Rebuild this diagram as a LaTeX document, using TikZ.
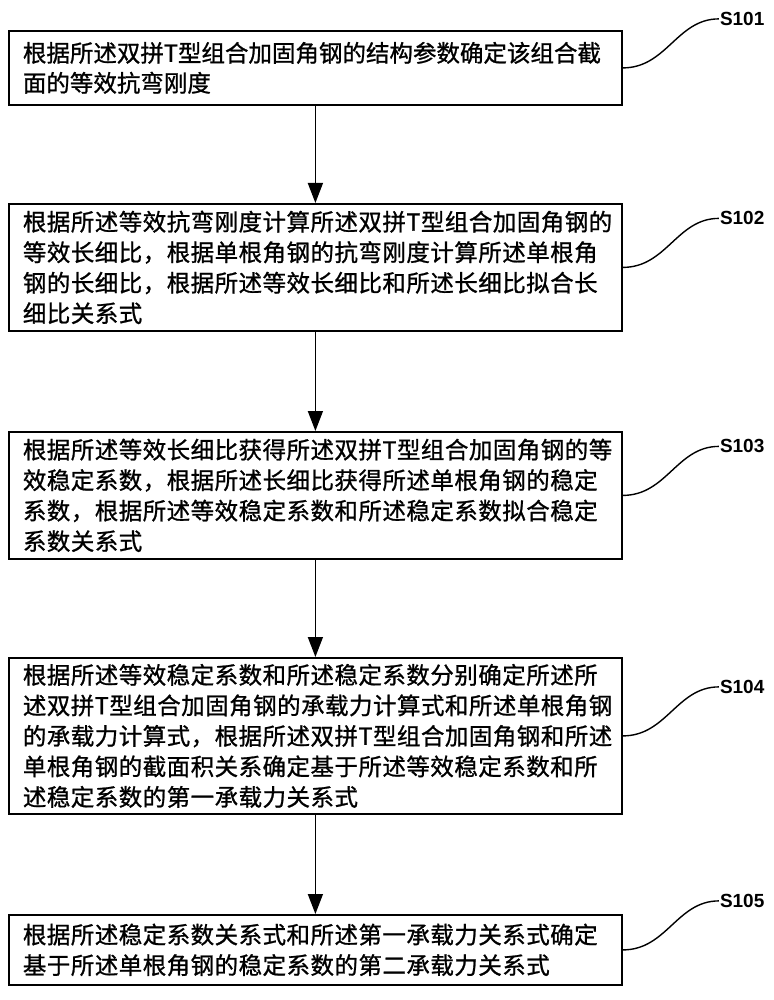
\documentclass[tikz,border=0pt]{standalone}
\usepackage{fontspec}
\usetikzlibrary{arrows.meta,calc}
\newfontfamily\cjka{Noto Sans CJK SC}[FakeBold=1]
\newfontfamily\cjkb{Noto Sans CJK SC}[FakeBold=1,LetterSpace=2]
\newfontfamily\labfont{Liberation Sans}
\tikzset{
  box/.style={draw=black, line width=1.8pt, anchor=north west, minimum width=613pt,
    text width=585pt, align=left, inner xsep=14pt, inner ysep=0pt},
  boxa/.style={box, font=\cjka\fontsize{23.5}{30}\selectfont},
  boxb/.style={box, font=\cjkb\fontsize{23.5}{30.5}\selectfont},
  arr/.style={line width=1.5pt, -{Triangle[length=20pt,width=15pt]}},
  leader/.style={line width=1.4pt},
  lab/.style={font=\labfont\bfseries\fontsize{19}{21}\selectfont, anchor=west, inner sep=1pt}
}
\begin{document}
\begin{tikzpicture}[x=1pt,y=-1pt]
\useasboundingbox (0,0) rectangle (773,1000);
\node[boxa, minimum height=74pt] (b1) at (8,30)
  {根据所述双拼T型组合加固角钢的结构参数确定该组合截\\面的等效抗弯刚度};
\node[boxb, minimum height=127pt] (b2) at (8,203)
  {根据所述等效抗弯刚度计算所述双拼T型组合加固角钢的\\等效长细比，根据单根角钢的抗弯刚度计算所述单根角\\钢的长细比，根据所述等效长细比和所述长细比拟合长\\细比关系式};
\node[boxb, minimum height=127pt] (b3) at (8,431)
  {根据所述等效长细比获得所述双拼T型组合加固角钢的等\\效稳定系数，根据所述长细比获得所述单根角钢的稳定\\系数，根据所述等效稳定系数和所述稳定系数拟合稳定\\系数关系式};
\node[boxb, minimum height=156pt] (b4) at (8,657)
  {根据所述等效稳定系数和所述稳定系数分别确定所述所\\述双拼T型组合加固角钢的承载力计算式和所述单根角钢\\的承载力计算式，根据所述双拼T型组合加固角钢和所述\\单根角钢的截面积关系确定基于所述等效稳定系数和所\\述稳定系数的第一承载力关系式};
\node[boxb, minimum height=70pt] (b5) at (8,914)
  {根据所述稳定系数关系式和所述第一承载力关系式确定\\基于所述单根角钢的稳定系数的第二承载力关系式};

\foreach \i in {1,...,5}{
  \node[lab] (l\i) at ($(b\i.east)+(96,-49)$) {S10\i};
}
\foreach \i in {1,...,5}{
  \draw[leader] (b\i.east) .. controls +(44,0) and +(-42,0) .. (l\i.west);
}
\draw[arr] (b1.south) -- (b2.north);
\draw[arr] (b2.south) -- (b3.north);
\draw[arr] (b3.south) -- (b4.north);
\draw[arr] (b4.south) -- (b5.north);
\end{tikzpicture}
\end{document}
